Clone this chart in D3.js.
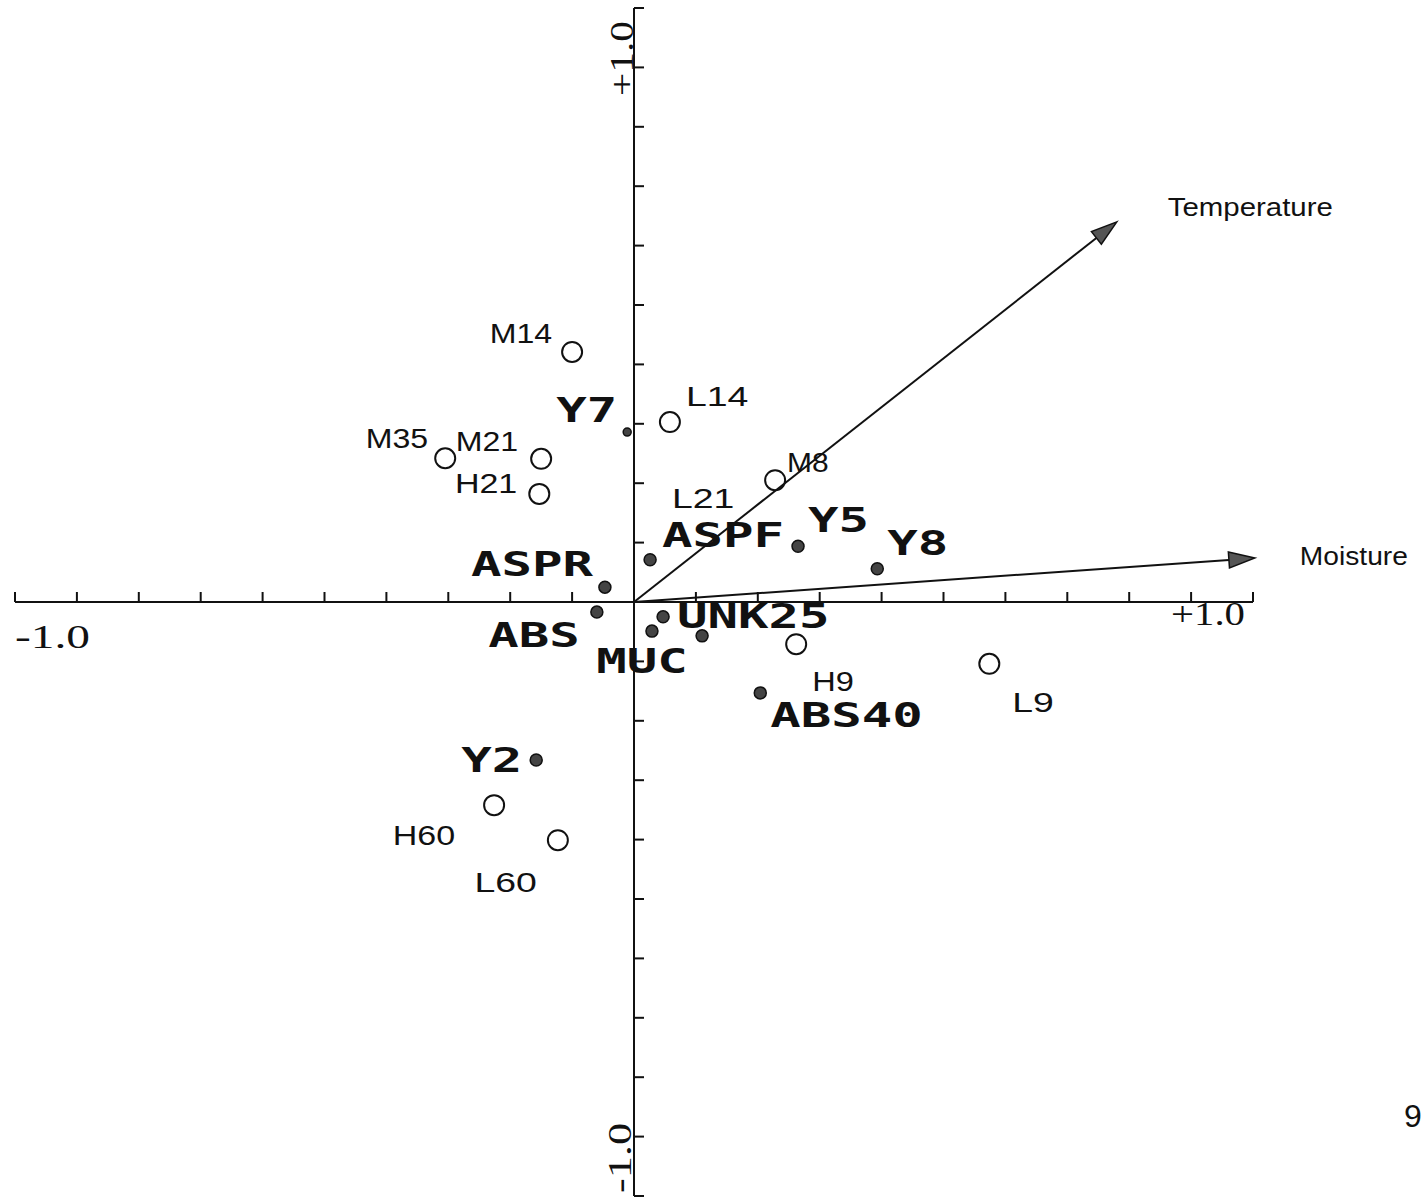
<!DOCTYPE html>
<html>
<head>
<meta charset="utf-8">
<script src="https://cdn.jsdelivr.net/npm/d3@7"></script>
<style>
  html, body { margin: 0; padding: 0; background: #fff; }
  svg { display: block; }
</style>
</head>
<body>
<svg id="chart" width="1427" height="1201"></svg>
<script>
// Sample sites (open circles)
const siteNames = ["M14", "L14", "M35", "M21", "H21", "M8", "L21", "H9", "L9", "H60", "L60"];
const siteX     = [-0.100, 0.058, -0.305, -0.150, -0.153, 0.228, 0.100, 0.262, 0.574, -0.226, -0.123];
const siteY     = [ 0.421, 0.303,  0.242,  0.241,  0.182, 0.205, 0.110, -0.071, -0.104, -0.342, -0.401];

// Species / taxa (filled dots)
const speciesNames = ["Y7", "ASPF", "Y5", "Y8", "ASPR", "ABS", "UNK25", "MUC", "", "ABS40", "Y2"];
const speciesX     = [-0.011, 0.026, 0.265, 0.393, -0.047, -0.060, 0.047, 0.029, 0.110, 0.204, -0.158];
const speciesY     = [ 0.286, 0.071, 0.094, 0.056,  0.025, -0.017, -0.025, -0.049, -0.057, -0.153, -0.266];

// Environmental vectors
const vectorNames = ["Temperature", "Moisture"];
const vectorX     = [0.780, 1.003];
const vectorY     = [0.640, 0.074];

// Axis ticks and end labels
const tickValues = d3.range(-10, 11).filter(i => i !== 0).map(i => i / 10);
const axisEndLabels = ["-1.0", "+1.0"];

const svg = d3.select("#chart");
const x = d3.scaleLinear().domain([-1, 1]).range([15, 1253]);
const y = d3.scaleLinear().domain([-1, 1]).range([1196, 8]);

const ink = "#111";

// Site circle hidden beneath the ASPF label
const hiddenSiteMarkers = new Set(["L21"]);

// Label placement relative to each point (pixels)
const siteLabelPos = {
  M14: [-20, -9, "end"], L14: [16, -16, "start"], M35: [-17, -10, "end"],
  M21: [-23, -8, "end"], H21: [-22, -1, "end"], M8: [12, -8, "start"],
  L21: [-24, -29, "start"], H9: [16, 47, "start"], L9: [23, 48, "start"],
  H60: [-39, 40, "end"], L60: [-21, 52, "end"]
};
const speciesLabelPos = {
  Y7: [-10, -10, "end"], ASPF: [12, -13, "start"], Y5: [10, -14, "start"],
  Y8: [10, -14, "start"], ASPR: [-12, -11, "end"], ABS: [-17, 35, "end"],
  UNK25: [14, 11, "start"], MUC: [-10, 42, "middle"], ABS40: [10, 34, "start"],
  Y2: [-14, 12, "end"]
};

// ---- Axes ----
const g = svg.append("g");
const cx = x(0), cy = y(0);

g.append("line").attr("x1", x(-1)).attr("x2", x(1)).attr("y1", cy).attr("y2", cy)
  .attr("stroke", ink).attr("stroke-width", 2);
g.append("line").attr("x1", cx).attr("x2", cx).attr("y1", y(1)).attr("y2", y(-1))
  .attr("stroke", ink).attr("stroke-width", 2);

g.selectAll(".xt").data(tickValues).join("line")
  .attr("x1", d => x(d)).attr("x2", d => x(d))
  .attr("y1", cy).attr("y2", cy - 10)
  .attr("stroke", ink).attr("stroke-width", 2);
g.selectAll(".yt").data(tickValues).join("line")
  .attr("x1", cx).attr("x2", cx + 10)
  .attr("y1", d => y(d)).attr("y2", d => y(d))
  .attr("stroke", ink).attr("stroke-width", 2);

const serif = "'Liberation Serif', 'Times New Roman', serif";
// horizontal axis end labels
g.append("text").text(axisEndLabels[0])
  .attr("x", x(-1)).attr("y", cy + 46)
  .attr("font-family", serif).attr("font-size", 34).attr("fill", ink)
  .attr("textLength", 75).attr("lengthAdjust", "spacingAndGlyphs");
g.append("text").text(axisEndLabels[1])
  .attr("x", x(1) - 8).attr("y", cy + 23).attr("text-anchor", "end")
  .attr("font-family", serif).attr("font-size", 34).attr("fill", ink)
  .attr("textLength", 74).attr("lengthAdjust", "spacingAndGlyphs");
// vertical axis end labels (rotated)
g.append("text").text(axisEndLabels[1])
  .attr("transform", `translate(${cx - 1},${y(1) + 88}) rotate(-90)`)
  .attr("font-family", serif).attr("font-size", 34).attr("fill", ink)
  .attr("textLength", 75).attr("lengthAdjust", "spacingAndGlyphs");
g.append("text").text(axisEndLabels[0])
  .attr("transform", `translate(${cx - 3},${y(-1) - 3}) rotate(-90)`)
  .attr("font-family", serif).attr("font-size", 34).attr("fill", ink)
  .attr("textLength", 70).attr("lengthAdjust", "spacingAndGlyphs");

// ---- Vectors ----
const vectors = vectorNames.map((n, i) => ({ name: n, x: vectorX[i], y: vectorY[i] }));
const vg = svg.append("g");
vectors.forEach(v => {
  const x1 = x(v.x), y1 = y(v.y);
  const ang = Math.atan2(y1 - cy, x1 - cx);
  const L = 26, W = 8;
  const bx = x1 - L * Math.cos(ang), by = y1 - L * Math.sin(ang);
  vg.append("line").attr("x1", cx).attr("y1", cy).attr("x2", bx).attr("y2", by)
    .attr("stroke", ink).attr("stroke-width", 2);
  const p = [
    [x1, y1],
    [bx + W * Math.sin(ang), by - W * Math.cos(ang)],
    [bx - W * Math.sin(ang), by + W * Math.cos(ang)]
  ];
  vg.append("path").attr("d", d3.line()(p) + "Z")
    .attr("fill", "#555").attr("stroke", ink).attr("stroke-width", 1.5);
});
const sans = "'Liberation Sans', Arial, sans-serif";
vg.append("text").text(vectors[0].name)
  .attr("x", x(vectors[0].x) + 51).attr("y", y(vectors[0].y) - 6)
  .attr("font-family", sans).attr("font-size", 26).attr("fill", ink)
  .attr("textLength", 165).attr("lengthAdjust", "spacingAndGlyphs");
vg.append("text").text(vectors[1].name)
  .attr("x", x(vectors[1].x) + 45).attr("y", y(vectors[1].y) + 7)
  .attr("font-family", sans).attr("font-size", 26).attr("fill", ink)
  .attr("textLength", 108).attr("lengthAdjust", "spacingAndGlyphs");

// ---- Sites ----
const sites = siteNames.map((n, i) => ({ name: n, x: siteX[i], y: siteY[i] }));
const sg = svg.append("g");
sg.selectAll("circle").data(sites.filter(d => !hiddenSiteMarkers.has(d.name))).join("circle")
  .attr("cx", d => x(d.x)).attr("cy", d => y(d.y)).attr("r", 10)
  .attr("fill", "none").attr("stroke", ink).attr("stroke-width", 2);
sg.selectAll("text").data(sites).join("text")
  .text(d => d.name)
  .attr("x", d => x(d.x) + siteLabelPos[d.name][0])
  .attr("y", d => y(d.y) + siteLabelPos[d.name][1])
  .attr("text-anchor", d => siteLabelPos[d.name][2])
  .attr("font-family", sans).attr("font-size", 28).attr("fill", ink)
  .attr("textLength", d => d.name.length * 20.8).attr("lengthAdjust", "spacingAndGlyphs");

// ---- Species ----
const species = speciesNames.map((n, i) => ({ name: n, x: speciesX[i], y: speciesY[i] }));
const spg = svg.append("g");
spg.selectAll("circle").data(species).join("circle")
  .attr("cx", d => x(d.x)).attr("cy", d => y(d.y)).attr("r", d => d.name === "Y7" ? 4 : 6)
  .attr("fill", "#444").attr("stroke", ink).attr("stroke-width", 1.5);
spg.selectAll("text").data(species.filter(d => d.name)).join("text")
  .text(d => d.name)
  .attr("x", d => x(d.x) + speciesLabelPos[d.name][0])
  .attr("y", d => y(d.y) + speciesLabelPos[d.name][1])
  .attr("text-anchor", d => speciesLabelPos[d.name][2])
  .attr("font-family", "'DejaVu Sans Mono', monospace").attr("font-weight", "bold")
  .attr("font-size", 34).attr("fill", ink)
  .attr("textLength", d => d.name.length * 30.5).attr("lengthAdjust", "spacingAndGlyphs");

// Page number at the margin
svg.append("text").text("9")
  .attr("x", 1404).attr("y", 1127)
  .attr("font-family", sans).attr("font-size", 32).attr("fill", ink);
</script>
</body>
</html>
